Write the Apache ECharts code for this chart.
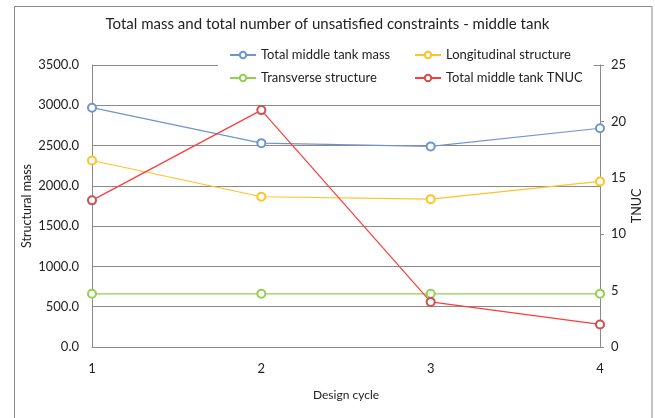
<!DOCTYPE html>
<html>
<head>
<meta charset="utf-8">
<script src="https://cdn.jsdelivr.net/npm/echarts@6/dist/echarts.min.js"></script>
<style>
html,body{margin:0;padding:0;background:#fff;}
#chart{width:655px;height:418px;}
</style>
</head>
<body>
<div id="chart"></div>
<script>
const categories = ['1', '2', '3', '4'];
const totalMass = [2970, 2530, 2490, 2715];
const longitudinal = [2315, 1865, 1835, 2055];
const transverse = [660, 660, 660, 660];
const tnuc = [13, 21, 4, 2];
const leftTicks = {min: 0, max: 3500, interval: 500};
const rightTicks = {min: 0, max: 25, interval: 5};

const FONT = 'Lato';
const TXT = '#222';
const GRAY = '#8a8a8a';

const chart = echarts.init(document.getElementById('chart'));
chart.setOption({
  animation: false,
  backgroundColor: '#fff',
  textStyle: {fontFamily: FONT},
  graphic: [{
    type: 'rect', silent: true, z: -10,
    shape: {x: 14.5, y: 6.5, width: 637.5, height: 420},
    style: {fill: '#fff', stroke: GRAY, lineWidth: 1}
  }],
  title: {
    text: 'Total mass and total number of unsatisfied constraints - middle tank',
    left: 'center', top: 12,
    textStyle: {fontFamily: FONT, fontSize: 15, fontWeight: 'normal', color: TXT}
  },
  legend: {
    left: 218, top: 43, width: 380,
    orient: 'horizontal',
    padding: [5, 11, 5, 11],
    itemGap: 9,
    itemWidth: 26, itemHeight: 8,
    backgroundColor: '#fff',
    z: 10,
    textStyle: {fontFamily: FONT, fontSize: 13, color: TXT, lineHeight: 14, height: 14, width: 144, overflow: 'none'},
    data: [
      {name: 'Total middle tank mass'},
      {name: 'Longitudinal structure', textStyle: {width: 130}},
      {name: 'Transverse structure'},
      {name: 'Total middle tank TNUC', textStyle: {width: 130}}
    ]
  },
  grid: {left: 92, right: 55, top: 65, bottom: 71, containLabel: false},
  xAxis: {
    type: 'category', data: categories, boundaryGap: false,
    name: 'Design cycle', nameLocation: 'middle', nameGap: 42, nameMoveOverlap: false,
    nameTextStyle: {fontFamily: FONT, fontSize: 12, color: TXT},
    axisLine: {show: true, lineStyle: {color: GRAY, width: 1}},
    axisTick: {show: false},
    axisLabel: {margin: 15, fontFamily: FONT, fontSize: 13, color: TXT},
    splitLine: {show: false}
  },
  yAxis: [{
    type: 'value', position: 'left',
    min: leftTicks.min, max: leftTicks.max, interval: leftTicks.interval,
    name: 'Structural mass', nameLocation: 'middle', nameGap: 59, nameRotate: 90, nameMoveOverlap: false,
    nameTextStyle: {fontFamily: FONT, fontSize: 12.5, color: TXT},
    axisLine: {show: true, lineStyle: {color: GRAY, width: 1}},
    axisTick: {show: false},
    axisLabel: {margin: 13, fontFamily: FONT, fontSize: 13, color: TXT,
      formatter: v => v.toFixed(1)},
    splitLine: {show: true, lineStyle: {color: GRAY, width: 1}}
  }, {
    type: 'value', position: 'right',
    min: rightTicks.min, max: rightTicks.max, interval: rightTicks.interval,
    name: 'TNUC', nameLocation: 'middle', nameGap: 30, nameRotate: 90, nameMoveOverlap: false,
    nameTextStyle: {fontFamily: FONT, fontSize: 12.5, color: TXT},
    axisLine: {show: true, lineStyle: {color: GRAY, width: 1}},
    axisTick: {show: true, inside: false, length: 4, lineStyle: {color: GRAY}},
    axisLabel: {margin: 11, fontFamily: FONT, fontSize: 13, color: TXT},
    splitLine: {show: false}
  }],
  series: [{
    name: 'Total middle tank mass', type: 'line', yAxisIndex: 0, data: totalMass,
    symbol: 'emptyCircle', symbolSize: 8,
    lineStyle: {color: '#6f95cf', width: 1.2},
    itemStyle: {color: '#6f95cf', borderColor: '#6f95cf', borderWidth: 1.3}
  }, {
    name: 'Longitudinal structure', type: 'line', yAxisIndex: 0, data: longitudinal,
    symbol: 'emptyCircle', symbolSize: 8,
    lineStyle: {color: '#ffc326', width: 1.2},
    itemStyle: {color: '#ffc326', borderColor: '#ffc326', borderWidth: 1.3}
  }, {
    name: 'Transverse structure', type: 'line', yAxisIndex: 0, data: transverse,
    symbol: 'emptyCircle', symbolSize: 8,
    lineStyle: {color: '#92d050', width: 1.2},
    itemStyle: {color: '#92d050', borderColor: '#92d050', borderWidth: 1.3}
  }, {
    name: 'Total middle tank TNUC', type: 'line', yAxisIndex: 1, data: tnuc,
    symbol: 'emptyCircle', symbolSize: 8,
    lineStyle: {color: '#ff3b3b', width: 1.2},
    itemStyle: {color: '#d0504d', borderColor: '#d0504d', borderWidth: 1.3}
  }]
});
</script>
</body>
</html>
